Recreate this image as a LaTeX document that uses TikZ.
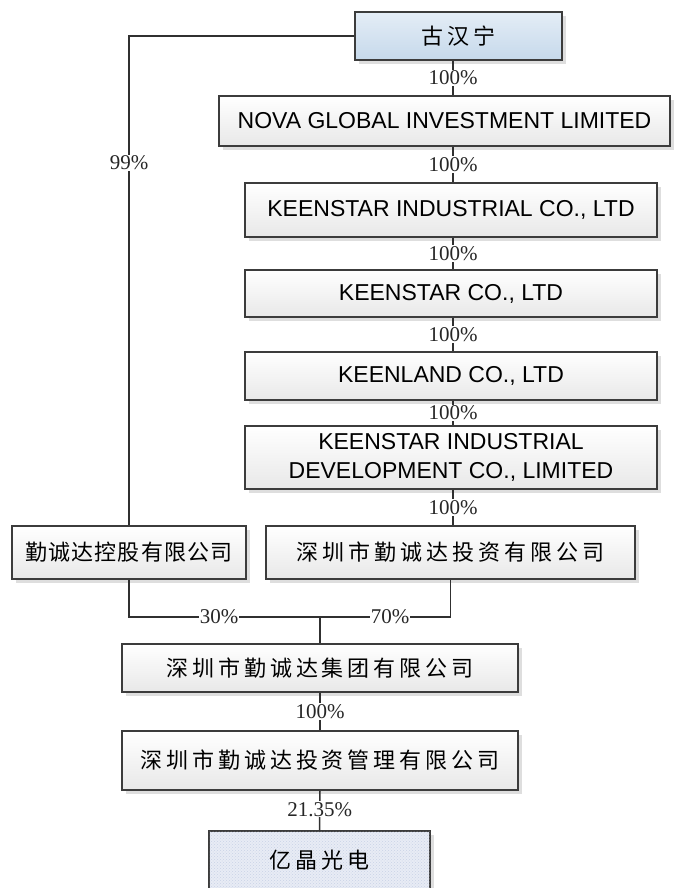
\documentclass[tikz,border=0pt]{standalone}
\usepackage{fontspec}
\usetikzlibrary{shadows,patterns}
\newfontfamily\cjkf{Noto Sans CJK SC}[LetterSpace=18]
\newfontfamily\cjkg{Noto Sans CJK SC}[LetterSpace=5]
\newfontfamily\latf{Liberation Sans}
\newfontfamily\pctf{Liberation Serif}
\definecolor{frame}{HTML}{3C3C3C}
\definecolor{linec}{HTML}{303030}
\definecolor{bluetop}{HTML}{E4EDF6}
\definecolor{bluebot}{HTML}{C6D9EB}
\definecolor{yjfill}{HTML}{E8ECF5}
\definecolor{yjdots}{HTML}{C9D2E6}
\tikzset{
  box/.style={draw=frame, line width=1.5pt, inner sep=0pt, align=center,
    top color=white, bottom color=black!9,
    drop shadow={shadow xshift=4pt, shadow yshift=-4pt, opacity=1, fill=black!13}},
  bluebox/.style={box, top color=bluetop, bottom color=bluebot},
  yjbox/.style={draw=frame, line width=1.5pt, inner sep=0pt, fill=yjfill,
    postaction={pattern=crosshatch dots, pattern color=yjdots},
    drop shadow={shadow xshift=4pt, shadow yshift=-4pt, opacity=1, fill=black!13}},
  lat/.style={font=\latf\fontsize{23}{29}\selectfont},
  cjk/.style={font=\cjkf\fontsize{22}{26}\selectfont},
  cjktight/.style={font=\cjkg\fontsize{22}{26}\selectfont},
  conn/.style={draw=linec, line width=1.5pt},
  pct/.style={font=\pctf\fontsize{21}{24}\selectfont, fill=white, inner sep=1pt, text=black!85},
}
\begin{document}
\begin{tikzpicture}[x=1pt,y=-1pt]
\useasboundingbox (0,0) rectangle (680,888);
\coordinate (sp) at (453,0);
\coordinate (j) at (320,617);
% boxes
\node[bluebox, cjk, minimum width=207pt, minimum height=48pt] (gu) at (458.5,36) {古汉宁};
\node[box, lat, minimum width=451pt, minimum height=50pt] (nova) at (444.5,121) {NOVA GLOBAL INVESTMENT LIMITED};
\node[box, lat, minimum width=412pt, minimum height=54pt] (ki) at (451,210) {KEENSTAR INDUSTRIAL CO., LTD};
\node[box, lat, minimum width=412pt, minimum height=47pt] (kc) at (451,293.5) {KEENSTAR CO., LTD};
\node[box, lat, minimum width=412pt, minimum height=48pt] (kl) at (451,376) {KEENLAND CO., LTD};
\node[box, lat, minimum width=412pt, minimum height=63pt] (kid) at (451,457.5) {KEENSTAR INDUSTRIAL\\DEVELOPMENT CO., LIMITED};
\node[box, cjktight, minimum width=234pt, minimum height=53pt] (hold) at (129,552.5) {勤诚达控股有限公司};
\node[box, cjk, minimum width=369pt, minimum height=53pt] (inv) at (450.5,552.5) {深圳市勤诚达投资有限公司};
\node[box, cjk, minimum width=396pt, minimum height=48pt] (grp) at (320,668) {深圳市勤诚达集团有限公司};
\node[box, cjk, minimum width=396pt, minimum height=59pt] (mgmt) at (320,760.5) {深圳市勤诚达投资管理有限公司};
\node[yjbox, cjk, minimum width=221pt, minimum height=66pt] (yj) at (319.5,864) {};
\node[cjk, anchor=center] (yjt) at (319.5,860) {亿晶光电};
% connectors
\draw[conn] (gu.south -| sp) -- node[pct]{100\%} (nova.north -| sp);
\draw[conn] (nova.south -| sp) -- node[pct]{100\%} (ki.north -| sp);
\draw[conn] (ki.south -| sp) -- node[pct]{100\%} (kc.north -| sp);
\draw[conn] (kc.south -| sp) -- node[pct]{100\%} (kl.north -| sp);
\draw[conn] (kl.south -| sp) -- node[pct]{100\%} (kid.north -| sp);
\draw[conn] (kid.south -| sp) -- node[pct]{100\%} (inv.north -| sp);
\draw[conn, line width=1.7pt] (gu.west) -| (hold.north);
\node[pct] (p99) at (129,163) {99\%};
\draw[conn, line width=1.7pt] (hold.south) |- (j);
\draw[conn, line width=1.7pt] (inv.south) |- (j);
\draw[conn, line width=1.7pt] (j) -- (grp.north);
\node[pct] (p30) at (219,617) {30\%};
\node[pct] (p70) at (390,617) {70\%};
\draw[conn] (grp.south) -- node[pct]{100\%} (mgmt.north);
\draw[conn] (mgmt.south) -- node[pct, pos=0.47]{21.35\%} (yj.north);
\end{tikzpicture}
\end{document}
